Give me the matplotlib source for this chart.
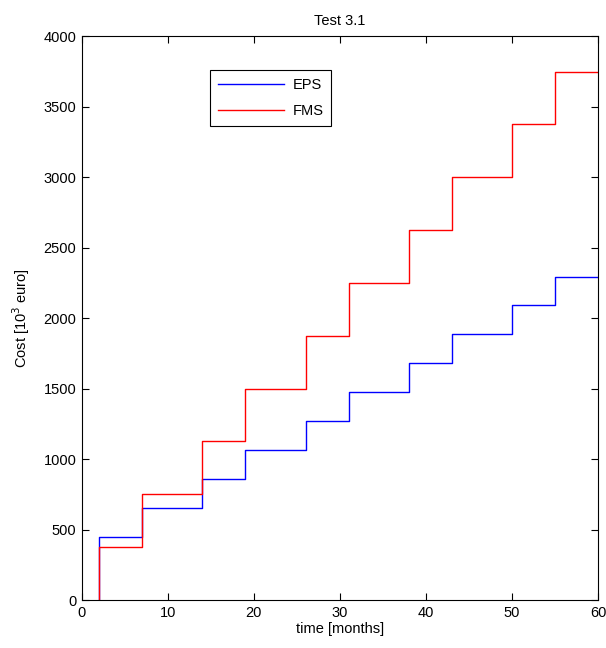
import numpy as np
import matplotlib.pyplot as plt

# step times (months) and cost levels (10^3 euro)
t = [2, 7, 14, 19, 26, 31, 38, 43, 50, 55, 60]
eps = [450, 655, 860, 1065, 1270, 1475, 1680, 1885, 2090, 2295, 2295]
fms = [375, 750, 1125, 1500, 1875, 2250, 2625, 3000, 3375, 3750, 3750]

plt.rcParams['font.family'] = 'Liberation Sans'
plt.rcParams['font.size'] = 10.5

fig = plt.figure(figsize=(6.06, 6.48), dpi=100)
ax = fig.add_axes([0.135, 0.074, 0.852, 0.870])

ax.step([t[0]] + t, [0] + eps, where='post', color='#0000ff', lw=1, label='EPS')
ax.step([t[0]] + t, [0] + fms, where='post', color='#ff0000', lw=1, label='FMS')

ax.set_xlim(0, 60)
ax.set_ylim(0, 4000)
ax.set_xticks(np.arange(0, 61, 10))
ax.set_yticks(np.arange(0, 4001, 500))
ax.tick_params(direction='in', top=True, right=True, length=5, width=0.8, pad=4)
for s in ax.spines.values():
    s.set_linewidth(0.8)

ax.set_xlabel('time [months]', labelpad=2)
ax.set_ylabel(r'Cost [10$^3$ euro]', labelpad=8)
ax.set_title('Test 3.1', fontsize=10.5, pad=8)

leg = ax.legend(loc='upper left', bbox_to_anchor=(0.248, 0.94), borderaxespad=0,
                fancybox=False, edgecolor='black', framealpha=1, handlelength=4.5,
                borderpad=0.55, labelspacing=0.8, handletextpad=0.6)
leg.get_frame().set_linewidth(0.8)

fig.savefig('out.png', dpi=100)
